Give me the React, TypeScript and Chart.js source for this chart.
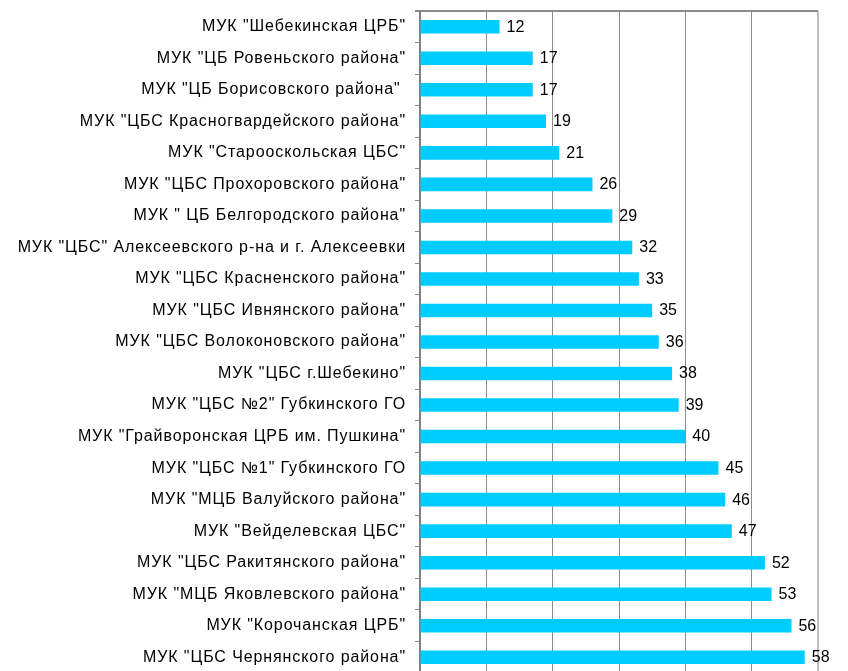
import React, { useEffect, useRef } from "react";
import { Chart, registerables } from "chart.js";

Chart.register(...registerables);

const categories: string[] = [
  'МУК "Шебекинская ЦРБ"',
  'МУК "ЦБ Ровеньского района"',
  'МУК "ЦБ Борисовского района" ',
  'МУК "ЦБС Красногвардейского района"',
  'МУК "Старооскольская ЦБС"',
  'МУК "ЦБС Прохоровского района"',
  'МУК " ЦБ Белгородского района"',
  'МУК "ЦБС" Алексеевского р-на и г. Алексеевки',
  'МУК "ЦБС Красненского района"',
  'МУК "ЦБС Ивнянского района"',
  'МУК "ЦБС Волоконовского района"',
  'МУК "ЦБС г.Шебекино"',
  'МУК "ЦБС №2" Губкинского ГО',
  'МУК "Грайворонская ЦРБ им. Пушкина"',
  'МУК "ЦБС №1" Губкинского ГО',
  'МУК "МЦБ Валуйского района"',
  'МУК "Вейделевская ЦБС"',
  'МУК "ЦБС Ракитянского района"',
  'МУК "МЦБ Яковлевского района"',
  'МУК "Корочанская ЦРБ"',
  'МУК "ЦБС Чернянского района"',
];

const values: number[] = [12, 17, 17, 19, 21, 26, 29, 32, 33, 35, 36, 38, 39, 40, 45, 46, 47, 52, 53, 56, 58];

const xTicks: number[] = [0, 10, 20, 30, 40, 50, 60];

const FONT = '"Liberation Sans", Arial, sans-serif';

const letterSpacingPlugin = {
  id: "letterSpacing",
  beforeDraw(chart: any) {
    chart.ctx.letterSpacing = "0.9px";
  },
};

const valueLabels = {
  id: "valueLabels",
  afterDatasetsDraw(chart: any) {
    const ctx = chart.ctx;
    const meta = chart.getDatasetMeta(0);
    ctx.save();
    ctx.letterSpacing = "0px";
    ctx.font = `16px ${FONT}`;
    ctx.fillStyle = "#000";
    ctx.textAlign = "left";
    ctx.textBaseline = "middle";
    meta.data.forEach((bar: any, i: number) => {
      ctx.fillText(String(values[i]), bar.x + 7, bar.y + 0.5);
    });
    ctx.restore();
  },
};

export default function App() {
  const ref = useRef<HTMLCanvasElement | null>(null);

  useEffect(() => {
    if (!ref.current) return;
    const chart = new Chart(ref.current, {
      type: "bar",
      data: {
        labels: categories,
        datasets: [
          {
            data: values,
            backgroundColor: "#00CCFF",
            borderWidth: 0,
            categoryPercentage: 1,
            barPercentage: 0.43,
          },
        ],
      },
      options: {
        indexAxis: "y",
        animation: false,
        responsive: false,
        maintainAspectRatio: false,
        layout: { padding: { top: 11, right: 30, bottom: 0, left: 0 } },
        plugins: {
          legend: { display: false },
          tooltip: { enabled: false },
        },
        scales: {
          x: {
            min: 0,
            max: 60,
            afterBuildTicks: (axis: any) => {
              axis.ticks = xTicks.map((v) => ({ value: v }));
            },
            ticks: { display: false },
            border: { display: false },
            grid: {
              drawTicks: false,
              color: (c: any) =>
                c.tick && c.tick.value === 0
                  ? "transparent"
                  : c.tick && c.tick.value === 60
                  ? "#c0c0c0"
                  : "#8c8c8c",
              lineWidth: (c: any) => (c.tick && c.tick.value === 60 ? 2 : 1),
            },
            afterFit: (axis: any) => {
              axis.height = 0;
              axis.paddingLeft = 0;
              axis.paddingRight = 0;
            },
          },
          y: {
            offset: true,
            border: { display: true, color: "#808080", width: 2 },
            grid: {
              offset: true,
              drawOnChartArea: true,
              drawTicks: true,
              tickLength: 5,
              color: (c: any) => (c.index === 0 ? "#8c8c8c" : "transparent"),
              tickColor: "#8c8c8c",
              lineWidth: (c: any) => (c.index === 0 ? 2 : 1),
            },
            ticks: {
              color: "#000",
              padding: 9,
              autoSkip: false,
              font: { family: FONT, size: 16 },
            },
            afterFit: (axis: any) => {
              axis.width = 420;
              axis.paddingTop = 0;
              axis.paddingBottom = 0;
            },
          },
        },
      },
      plugins: [letterSpacingPlugin, valueLabels],
    });
    return () => chart.destroy();
  }, []);

  return (
    <div style={{ position: "absolute", left: 0, top: 0, width: 848, height: 673 }}>
      <canvas ref={ref} width={848} height={673} style={{ display: "block" }} />
    </div>
  );
}
